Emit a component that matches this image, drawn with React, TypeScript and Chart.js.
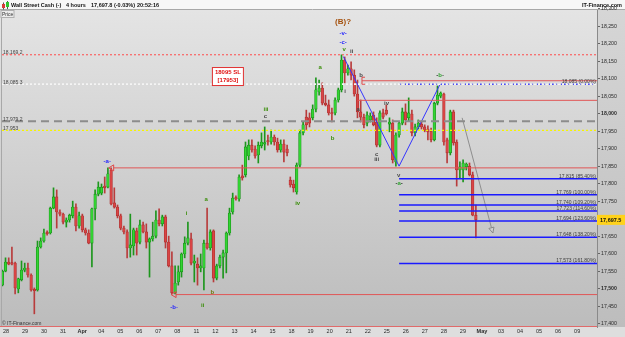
import React, { useEffect, useRef } from 'react';
import { Chart, registerables } from 'chart.js';

Chart.register(...registerables);

// ---------- data (4-hour candles, Wall Street Cash) ----------
const opens = [
  17511, 17551, 17577, 17574, 17574, 17500, 17526, 17554, 17560, 17540,
  17499, 17497, 17620, 17637, 17662, 17660, 17731, 17763, 17720, 17714,
  17691, 17697, 17709, 17734, 17680, 17709, 17669, 17660, 17631, 17729,
  17771, 17774, 17794, 17791, 17840, 17746, 17734, 17709, 17674, 17663,
  17617, 17623, 17666, 17634, 17683, 17663, 17634, 17643, 17651, 17697,
  17686, 17706, 17634, 17566, 17489, 17520, 17549, 17600, 17631, 17643,
  17574, 17571, 17560, 17560, 17631, 17617, 17666, 17531, 17566, 17591,
  17603, 17660, 17720, 17760, 17757, 17823, 17826, 17880, 17911, 17900,
  17883, 17909, 17914, 17923, 17920, 17934, 17920, 17897, 17914, 17900,
  17811, 17800, 17777, 17854, 17946, 17991, 17989, 17989, 18014, 18063,
  18074, 18031, 18026, 18003, 18003, 18040, 18069, 18154, 18117, 18129,
  18111, 18057, 18006, 17991, 17974, 17983, 17997, 17977, 17911, 18003,
  18011, 17971, 17974, 17863, 17940, 17974, 18006, 17989, 18000, 17946,
  17963, 17971, 17963, 17957, 17951, 17926, 18031, 18051, 18057, 17926,
  17889, 18006, 17920, 17840, 17840, 17849, 17851, 17826, 17711,
];
const highs = [
  17554, 17589, 17589, 17620, 17577, 17531, 17580, 17574, 17574, 17543,
  17503, 17637, 17646, 17671, 17666, 17734, 17789, 17783, 17726, 17717,
  17703, 17714, 17751, 17743, 17720, 17714, 17674, 17669, 17731, 17783,
  17806, 17800, 17820, 17846, 17846, 17789, 17740, 17714, 17680, 17669,
  17714, 17674, 17674, 17697, 17691, 17686, 17646, 17691, 17723, 17729,
  17711, 17711, 17651, 17606, 17566, 17566, 17603, 17649, 17691, 17660,
  17597, 17589, 17600, 17640, 17731, 17669, 17669, 17571, 17597, 17611,
  17663, 17731, 17774, 17766, 17826, 17854, 17920, 17926, 17926, 17909,
  17920, 17946, 17963, 17940, 17954, 17940, 17931, 17926, 17926, 17911,
  17820, 17811, 17860, 17954, 17977, 18011, 18003, 18026, 18103, 18097,
  18089, 18054, 18040, 18017, 18046, 18074, 18169, 18163, 18140, 18149,
  18126, 18097, 18040, 18000, 18006, 18003, 18006, 17989, 18009, 18014,
  18026, 17989, 17983, 17946, 17977, 18017, 18029, 18046, 18011, 17971,
  17983, 17977, 17969, 17966, 17960, 18034, 18080, 18063, 18060, 17931,
  18011, 18011, 17926, 17863, 17869, 17860, 17860, 17834, 17740,
];
const lows = [
  17509, 17549, 17569, 17569, 17486, 17489, 17523, 17549, 17534, 17494,
  17429, 17494, 17617, 17634, 17654, 17657, 17729, 17674, 17709, 17686,
  17677, 17691, 17703, 17666, 17674, 17663, 17654, 17629, 17563, 17697,
  17766, 17769, 17774, 17789, 17740, 17731, 17703, 17669, 17657, 17589,
  17591, 17597, 17597, 17629, 17660, 17617, 17534, 17637, 17646, 17680,
  17680, 17617, 17563, 17486, 17486, 17511, 17534, 17589, 17626, 17569,
  17520, 17511, 17549, 17497, 17614, 17611, 17520, 17526, 17560, 17531,
  17546, 17654, 17714, 17754, 17751, 17811, 17820, 17869, 17891, 17874,
  17860, 17903, 17897, 17911, 17914, 17911, 17891, 17891, 17863, 17880,
  17791, 17777, 17771, 17849, 17940, 17954, 17963, 17983, 18006, 18054,
  18026, 18023, 17997, 17977, 17997, 18034, 18063, 18089, 18111, 18097,
  18051, 17989, 17977, 17960, 17966, 17977, 17966, 17906, 17906, 17986,
  17997, 17949, 17860, 17851, 17934, 17969, 17969, 17980, 17937, 17937,
  17957, 17957, 17949, 17926, 17920, 17923, 18026, 18046, 17911, 17860,
  17883, 17911, 17794, 17817, 17806, 17840, 17823, 17709, 17646,
];
const closes = [
  17551, 17577, 17571, 17571, 17503, 17529, 17554, 17560, 17540, 17497,
  17495, 17620, 17637, 17660, 17658, 17731, 17763, 17720, 17714, 17691,
  17697, 17711, 17734, 17680, 17709, 17669, 17660, 17631, 17729, 17771,
  17791, 17791, 17789, 17829, 17743, 17734, 17709, 17674, 17663, 17617,
  17626, 17669, 17631, 17683, 17663, 17634, 17643, 17651, 17697, 17686,
  17706, 17634, 17566, 17489, 17517, 17549, 17600, 17631, 17646, 17574,
  17580, 17560, 17566, 17631, 17617, 17663, 17531, 17566, 17591, 17603,
  17660, 17717, 17760, 17757, 17820, 17817, 17906, 17911, 17897, 17880,
  17911, 17920, 17917, 17920, 17934, 17920, 17897, 17914, 17891, 17889,
  17797, 17789, 17854, 17946, 17969, 17969, 17974, 18014, 18069, 18074,
  18031, 18026, 18003, 18000, 18040, 18069, 18154, 18117, 18129, 18111,
  18057, 18006, 17991, 17969, 17997, 17994, 17969, 17911, 18003, 17991,
  18000, 17977, 17869, 17940, 17974, 18006, 17983, 18003, 17946, 17963,
  17974, 17963, 17954, 17949, 17926, 18031, 18054, 18060, 17920, 17889,
  18006, 17917, 17840, 17849, 17860, 17857, 17826, 17711, 17697.5,
];

const dayLabels = ['28', '29', '30', '31', 'Apr', '04', '05', '06', '07', '08', '11', '12', '13', '14', '15',
  '18', '19', '20', '21', '22', '25', '26', '27', '28', '29', 'May', '03', '04', '05', '06', '09'];
const monthLabels = ['Apr', 'May'];
const firstDayIndex = 1.15;
const candlesPerDay = 5.95;

const extraPriceTicks = [18300];

const hLevels = [18169.2, 18085.3, 17979.2, 17953];
const hLevelLabels = ['18,169.2', '18,085.3', '17,979.2', '17,953'];

const fibLevels = [18085, 17815, 17769, 17740, 17723, 17694, 17648, 17573];
const fibPercents = ['0.00%', '85.40%', '100.00%', '109.20%', '114.60%', '123.60%', '138.20%', '161.80%'];
const fibStartIndex = 124;

const redLevels = [18095, 18039, 17846, 17484];
const redStartIndex = [112.4, 111.2, 34.8, 54.3];

const zigzagIndex = [106.6, 124, 136.8];
const zigzagPrice = [18164, 17851, 18085];

const projIndex = [143.7, 153.3];
const projPrice = [17989, 17660];

const lastPrice = 17697.5;
const headerParts = ['Wall Street Cash (-)', '4 hours', '17,697.8 (-0.03%)', '20:52:16'];
const slText = ['18095 SL', '[17953]'];
const slAnchor = { index: 70.5, price: 18107 };

// wave-count labels: text, candle index, price, kind
const waveLabels: [string, number, number, string][] = [
  ['(B)?', 106.5, 18263, 'brown'],
  ['-v-', 106.5, 18231, 'blue'],
  ['-c-', 106.5, 18206, 'blue'],
  ['v', 106.8, 18186, 'green'],
  ['ii', 109.2, 18178, 'gray'],
  ['a', 99.3, 18134, 'green'],
  ['i', 107.1, 18064, 'gray'],
  ['b', 112.1, 18111, 'gray'],
  ['a', 111.2, 18013, 'gray'],
  ['iv', 120.1, 18030, 'gray'],
  ['c', 117.0, 17885, 'gray'],
  ['iii', 117.0, 17869, 'gray'],
  ['v', 123.9, 17826, 'gray'],
  ['-a-', 124.0, 17802, 'greenDash'],
  ['-b-', 136.8, 18109, 'greenDash'],
  ['iii', 82.4, 18013, 'green'],
  ['c', 82.2, 17994, 'gray'],
  ['b', 103.2, 17931, 'green'],
  ['iv', 92.3, 17745, 'green'],
  ['-a-', 32.8, 17866, 'blue'],
  ['-b-', 53.7, 17448, 'blue'],
  ['ii', 62.6, 17454, 'green'],
  ['b', 65.6, 17491, 'olive'],
  ['a', 63.7, 17757, 'green'],
  ['i', 57.6, 17716, 'green'],
];

// ---------- styles ----------
const FONT = '"Liberation Sans", Arial, sans-serif';
const X_MIN = -0.1;
const X_MAX = 185.85;
const Y_MIN = 17391.4;
const Y_MAX = 18297.1;
const kindColor: Record<string, string> = {
  brown: '#a4500c', blue: '#1f1fff', green: '#3c8f0c', greenDash: '#2fa32f', gray: '#4a4a4a', olive: '#6f7a10',
};
const hLevelStyles = [
  { c: '#ff4a4a', w: 1, dash: [2, 2] },
  { c: '#f4f4f4', w: 1.6, dash: [2, 2] },
  { c: '#8c8c8c', w: 2.2, dash: [8, 5] },
  { c: '#f5f500', w: 1.3, dash: [2, 2] },
];

function fmt(v: number) {
  return v.toLocaleString('en-US');
}

function text(ctx: CanvasRenderingContext2D, s: string, x: number, y: number, font: string, color: string,
  align: CanvasTextAlign = 'left', base: CanvasTextBaseline = 'middle') {
  ctx.font = font;
  ctx.fillStyle = color;
  ctx.textAlign = align;
  ctx.textBaseline = base;
  ctx.fillText(s, x, y);
}

const decorPlugin = {
  id: 'decor',
  beforeDraw(chart: any) {
    const { ctx, chartArea: a, width, height } = chart;
    ctx.save();
    ctx.fillStyle = '#f7f7f7';
    ctx.fillRect(0, 0, width, a.top);
    const g = ctx.createLinearGradient(0, a.top, 0, a.bottom);
    g.addColorStop(0, '#e4e4e4');
    g.addColorStop(1, '#bcbcbc');
    ctx.fillStyle = g;
    ctx.fillRect(0, a.top, a.right, a.bottom - a.top);
    const g2 = ctx.createLinearGradient(0, a.top, 0, a.bottom);
    g2.addColorStop(0, '#d6d6d6');
    g2.addColorStop(1, '#bdbdbd');
    ctx.fillStyle = g2;
    ctx.fillRect(a.right, a.top, width - a.right, a.bottom - a.top);
    ctx.fillStyle = '#dedede';
    ctx.fillRect(0, a.bottom, width, height - a.bottom);
    ctx.strokeStyle = '#a8a8a8';
    ctx.lineWidth = 1;
    ctx.beginPath();
    ctx.moveTo(0, a.top - 0.5);
    ctx.lineTo(width, a.top - 0.5);
    ctx.moveTo(1.5, a.top);
    ctx.lineTo(1.5, a.bottom);
    ctx.stroke();
    ctx.restore();
  },
  afterDraw(chart: any) {
    const { ctx, chartArea: a } = chart;
    const xs = chart.scales.x;
    const ys = chart.scales.y;
    const X = (v: number) => xs.getPixelForValue(v);
    const Y = (v: number) => ys.getPixelForValue(v);
    ctx.save();

    // bottom red border of plot
    ctx.strokeStyle = '#e06a6a';
    ctx.lineWidth = 1;
    ctx.beginPath();
    ctx.moveTo(0, a.bottom - 0.5);
    ctx.lineTo(a.right, a.bottom - 0.5);
    ctx.stroke();

    // left labels of horizontal levels
    hLevels.forEach((lv, k) => text(ctx, hLevelLabels[k], a.left + 1, Y(lv) - 0.5, `5px ${FONT}`, '#444', 'left', 'alphabetic'));

    // fib labels
    fibLevels.forEach((lv, k) => text(ctx, `${fmt(lv)} (${fibPercents[k]})`, a.right - 1, Y(lv) - 1.2, `5px ${FONT}`, '#3a3a3a', 'right', 'alphabetic'));

    // red arrow markers at start of red lines
    ctx.strokeStyle = '#e04848';
    ctx.lineWidth = 1;
    [2, 3].forEach((k) => {
      const x0 = X(redStartIndex[k]) - 5;
      const y0 = Y(redLevels[k]);
      ctx.beginPath();
      ctx.moveTo(x0, y0);
      ctx.lineTo(x0 + 5, y0 - 3);
      ctx.lineTo(x0 + 5, y0 + 3);
      ctx.closePath();
      ctx.stroke();
    });
    {
      const x0 = X(redStartIndex[0]);
      const y0 = Y(redLevels[0]);
      ctx.beginPath();
      ctx.moveTo(x0 + 3, y0 - 3.5);
      ctx.lineTo(x0, y0 - 3.5);
      ctx.lineTo(x0, y0 + 3.5);
      ctx.lineTo(x0 + 3, y0 + 3.5);
      ctx.stroke();
    }

    // projection arrow head
    {
      const x1 = X(projIndex[0]);
      const y1 = Y(projPrice[0]);
      const x2 = X(projIndex[1]);
      const y2 = Y(projPrice[1]);
      const ang = Math.atan2(y2 - y1, x2 - x1);
      const L = 6;
      const s = 0.45;
      ctx.strokeStyle = '#8a8a8a';
      ctx.fillStyle = '#d0d0d0';
      ctx.beginPath();
      ctx.moveTo(x2, y2);
      ctx.lineTo(x2 - L * Math.cos(ang - s), y2 - L * Math.sin(ang - s));
      ctx.lineTo(x2 - L * Math.cos(ang + s), y2 - L * Math.sin(ang + s));
      ctx.closePath();
      ctx.fill();
      ctx.stroke();
    }

    // wave labels
    waveLabels.forEach(([s, i, p, kind]) => {
      const x = X(i);
      const y = Y(p);
      if (kind === 'brown') {
        text(ctx, s, x, y, `bold 8px ${FONT}`, kindColor.brown, 'center');
      } else if (kind === 'greenDash') {
        ctx.font = `bold 6px ${FONT}`;
        const w = ctx.measureText(s).width;
        const dw = ctx.measureText('-').width;
        text(ctx, '-', x - w / 2, y, `bold 6px ${FONT}`, '#222', 'left');
        text(ctx, s.slice(1, -1), x, y, `bold 6px ${FONT}`, kindColor.greenDash, 'center');
        text(ctx, '-', x + w / 2 - dw, y, `bold 6px ${FONT}`, '#222', 'left');
      } else {
        text(ctx, s, x, y, `bold 6px ${FONT}`, kindColor[kind], 'center');
      }
    });

    // SL box
    {
      const cx = X(slAnchor.index);
      const cy = Y(slAnchor.price);
      ctx.fillStyle = '#ffffff';
      ctx.fillRect(cx - 15.5, cy - 9, 31, 18);
      ctx.strokeStyle = '#e03030';
      ctx.lineWidth = 1;
      ctx.strokeRect(cx - 15.5, cy - 9, 31, 18);
      text(ctx, slText[0], cx, cy - 4, `bold 6px ${FONT}`, '#e01010', 'center');
      text(ctx, slText[1], cx, cy + 4, `bold 6px ${FONT}`, '#e01010', 'center');
    }

    // last price on axis
    {
      const y = Y(lastPrice);
      ctx.fillStyle = '#ffd21a';
      ctx.fillRect(a.right, y - 5, 28, 10);
      text(ctx, fmt(lastPrice), a.right + 3, y + 0.5, `bold 5.5px ${FONT}`, '#111', 'left');
    }

    // header
    const hx = [11, 66, 91, 137];
    headerParts.forEach((s, k) => text(ctx, s, hx[k], 5, `bold 5.5px ${FONT}`, '#111', 'left'));
    text(ctx, 'IT-Finance.com', 622, 5, `bold 5.5px ${FONT}`, '#111', 'right');
    ctx.fillStyle = '#d83a3a';
    ctx.fillRect(2, 4, 3, 4);
    ctx.fillStyle = '#2fc42f';
    ctx.fillRect(6, 2, 3, 5);
    ctx.fillStyle = '#555';
    ctx.fillRect(3, 2.5, 1, 7);
    ctx.fillRect(7, 1, 1, 8);
    ctx.fillStyle = '#d83a3a';
    ctx.fillRect(2, 4, 3, 4);
    ctx.fillStyle = '#2fc42f';
    ctx.fillRect(6, 2, 3, 5);

    // Price box
    ctx.fillStyle = '#ececec';
    ctx.fillRect(1, 10.5, 13, 7);
    ctx.strokeStyle = '#b0b0b0';
    ctx.strokeRect(1, 10.5, 13, 7);
    text(ctx, 'Price', 2, 14.2, `5px ${FONT}`, '#333', 'left');

    // copyright
    text(ctx, '\u00a9 IT-Finance.com', 2, a.bottom - 3.5, `5px ${FONT}`, '#333', 'left');

    ctx.restore();
  },
};

export default function App() {
  const ref = useRef<HTMLCanvasElement>(null);

  useEffect(() => {
    const canvas = ref.current;
    if (!canvas) return;
    const idx = closes.map((_, i) => i);
    const up = (i: number) => closes[i] >= opens[i];

    const hLine = (level: number, from: number) => [{ x: from, y: level }, { x: X_MAX, y: level }];
    const lineDs = (data: any[], color: string, width: number, dash: number[] = []) => ({
      type: 'line' as const,
      data,
      borderColor: color,
      borderWidth: width,
      borderDash: dash,
      pointRadius: 0,
      fill: false,
      tension: 0,
      order: 0,
    });

    const datasets: any[] = [
      {
        type: 'bar',
        data: idx.map((i) => ({ x: i, y: [lows[i], highs[i]] })),
        backgroundColor: idx.map((i) => (up(i) ? '#1d961d' : '#b83c3c')),
        barThickness: 1,
        grouped: false,
        order: 3,
      },
      {
        type: 'bar',
        data: idx.map((i) => ({ x: i, y: [Math.min(opens[i], closes[i]), Math.max(opens[i], closes[i])] })),
        backgroundColor: idx.map((i) => (up(i) ? '#33d433' : '#d94545')),
        borderColor: idx.map((i) => (up(i) ? '#148a14' : '#a82c2c')),
        borderWidth: 0.6,
        borderSkipped: false,
        barThickness: 2.6,
        minBarLength: 1.5,
        grouped: false,
        order: 2,
      },
    ];
    hLevels.forEach((lv, k) => datasets.push(lineDs(hLine(lv, X_MIN), hLevelStyles[k].c, hLevelStyles[k].w, hLevelStyles[k].dash)));
    redLevels.forEach((lv, k) => datasets.push(lineDs(hLine(lv, redStartIndex[k]), '#e05656', 1)));
    fibLevels.forEach((lv, k) => datasets.push(lineDs(hLine(lv, fibStartIndex), k === 0 ? '#3a3aff' : '#1a1aff', 1.5, k === 0 ? [1.5, 1.5] : [])));
    datasets.push(lineDs(zigzagIndex.map((x, k) => ({ x, y: zigzagPrice[k] })), '#3535ff', 1));
    datasets.push(lineDs(projIndex.map((x, k) => ({ x, y: projPrice[k] })), '#8e8e8e', 1));

    const chart = new Chart(canvas, {
      type: 'bar',
      data: { datasets },
      options: {
        responsive: false,
        animation: false,
        devicePixelRatio: 1,
        layout: { padding: { top: 10, left: 2, right: 0, bottom: 0 } },
        plugins: { legend: { display: false }, tooltip: { enabled: false } },
        scales: {
          x: {
            type: 'linear',
            min: X_MIN,
            max: X_MAX,
            offset: false,
            grid: { display: false, drawTicks: false },
            border: { display: false },
            afterBuildTicks: (s: any) => {
              s.ticks = dayLabels.map((_, d) => ({ value: firstDayIndex + d * candlesPerDay }));
            },
            afterFit: (s: any) => { s.height = 10; },
            ticks: {
              autoSkip: false,
              maxRotation: 0,
              minRotation: 0,
              padding: 1,
              color: '#2a2a2a',
              font: (c: any) => ({ family: FONT, size: 5.5, weight: monthLabels.includes(dayLabels[c.index]) ? 'bold' : 'normal' }),
              callback: (_v: any, i: number) => dayLabels[i],
            },
          },
          y: {
            type: 'linear',
            position: 'right',
            min: Y_MIN,
            max: Y_MAX,
            grid: { drawOnChartArea: false, drawTicks: true, tickLength: 3, color: '#666' },
            border: { display: true, color: '#8a8a8a' },
            afterBuildTicks: (s: any) => {
              extraPriceTicks.forEach((v) => s.ticks.push({ value: v }));
            },
            afterFit: (s: any) => { s.width = 28; },
            ticks: {
              stepSize: 50,
              includeBounds: false,
              autoSkip: false,
              padding: 1,
              color: '#2a2a2a',
              font: (c: any) => ({ family: FONT, size: 5.2, weight: c.tick && c.tick.value % 500 === 0 ? 'bold' : 'normal' }),
              callback: (v: any) => fmt(Number(v)),
            },
          },
        },
      },
      plugins: [decorPlugin],
    } as any);

    return () => chart.destroy();
  }, []);

  return (
    <canvas
      ref={ref}
      width={625}
      height={337}
      style={{ position: 'fixed', left: 0, top: 0, width: '625px', height: '337px' }}
    />
  );
}
